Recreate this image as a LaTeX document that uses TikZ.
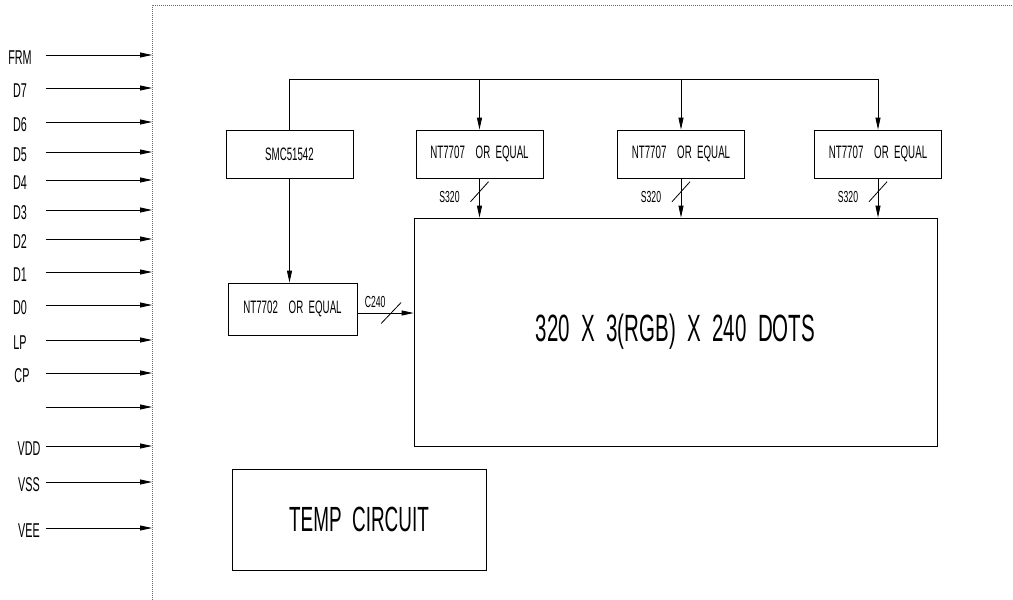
\documentclass[tikz,border=0pt]{standalone}
\usepackage{fontspec}
\setmainfont[FakeStretch=0.54,WordSpace=2]{Liberation Sans}
\usetikzlibrary{positioning,arrows.meta,calc}

\begin{document}
\begin{tikzpicture}[
  x=1pt, y=-1pt,
  line width=0.8pt,
  blk/.style  = {draw, inner sep=0pt, font=\fontsize{18}{20}\selectfont},
  chip/.style = {blk, minimum width=127pt, minimum height=48pt},
  pin/.style  = {inner sep=0pt, font=\fontsize{20}{22}\selectfont},
  tag/.style  = {inner sep=0pt, font=\fontsize{16}{18}\selectfont},
  ar/.style   = {-{Triangle[length=12pt,width=5pt]}},
  frm/.style  = {draw=black!60, densely dotted, line width=1pt},
]
\useasboundingbox (0,0) rectangle (1013,600);

% ======================= module outline ================================
\draw[frm] (152,600) -- (152,5) -- (1013,5);

% ======================= interface pins ================================
\foreach \t/\lx/\ly [count=\i] in {FRM/20/55, D7/20/88, D6/20/122, D5/20/152,
    D4/20/180, D3/20/210, D2/20/239, D1/20/272, D0/20/305, LP/20/340,
    CP/22/373, VDD/29/446, VSS/29/482, VEE/29/528} {
  \node[pin] (p\i) at (\lx,\ly+3) {\t};
  \coordinate (s\i) at (46,\ly);
  \coordinate (e\i) at (152,\ly);
  \draw[ar] (s\i) -- (e\i);
}
\coordinate (sx) at (46,407);
\coordinate (ex) at (152,407);
\draw[ar] (sx) -- (ex);

% ======================= controller and drivers ========================
\node[chip] (smc)  at (289.5,154) {SMC51542};
\node[chip] (drv1) at (479.5,154) {NT7707~~OR EQUAL};
\node[chip] (drv2) at (681,154)   {NT7707~~OR EQUAL};
\node[chip] (drv3) at (878,154)   {NT7707~~OR EQUAL};
\node[blk, minimum width=129pt, minimum height=52pt] (com) at (292.5,309)
  {NT7702~~OR EQUAL};

% ======================= panel and temp circuit ========================
\node[draw, minimum width=523pt, minimum height=228pt, inner sep=0pt,
      font=\fontsize{38}{40}\selectfont] (lcd) at (675.5,332)
  {320 X 3(RGB) X 240 DOTS};
\node[draw, minimum width=254pt, minimum height=101pt, inner sep=0pt,
      font=\fontsize{35}{38}\selectfont] (temp) at (359,519.5)
  {TEMP CIRCUIT};

% ======================= buses =========================================
\coordinate (tap) at (smc.north |- 0,79);
\draw (smc.north) -- (tap) -- (tap -| drv3.north);
\foreach \i in {1,2,3} {
  \draw[ar] (tap -| drv\i.north) -- (drv\i.north);
  \draw[ar] (drv\i.south) -- (drv\i.south |- lcd.north) coordinate[pos=0.34] (m\i);
  \draw ($(m\i)+(-9,10)$) -- ($(m\i)+(9,-10)$);
  \node[tag] (s320\i) at ($(m\i)+(-30,5)$) {S320};
}
\draw[ar] (smc.south) -- (smc.south |- com.north);
\draw[ar] ($(com.east)+(0,4)$) -- ($(com.east -| lcd.west)+(0,4)$)
  coordinate[pos=0.6] (mc);
\draw ($(mc)+(-10,10.5)$) -- ($(mc)+(10,-10.5)$);
\node[tag] (c240) at ($(mc)+(-16,-11)$) {C240};

\end{tikzpicture}
\end{document}
